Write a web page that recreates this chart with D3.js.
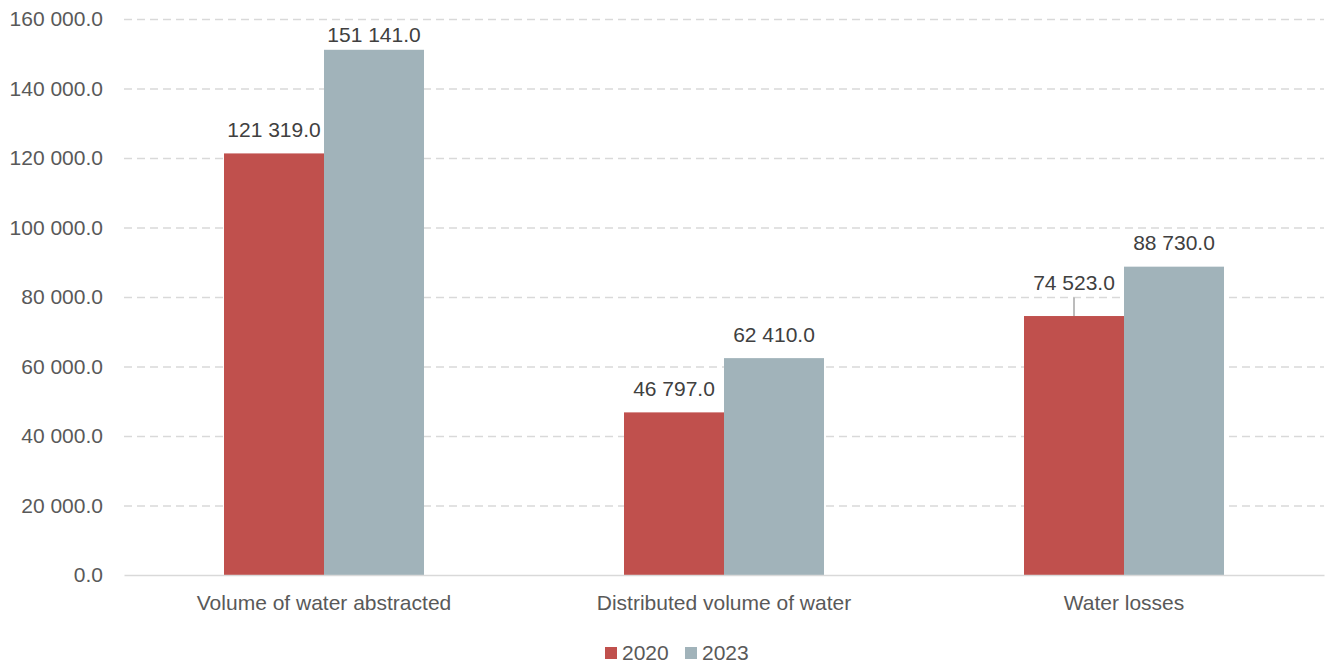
<!DOCTYPE html>
<html>
<head>
    <meta charset="utf-8">
    <style>
        body { margin: 0; background: #fff; }
        svg { font-family: 'Liberation Sans', Arial, sans-serif; }
        .y .tick line { stroke: #d9d9d9; stroke-dasharray: 8 5; stroke-width: 1.3px; }
        .y .domain { display: none; }
        .y .tick text { font-size: 21px; fill: #595959; }
        .x .domain { stroke: #d9d9d9; stroke-width: 1.5px; }
        .x .tick line { display: none; }
        .x .tick text { font-size: 21px; fill: #595959; }
    </style>
</head>
<body>
    <svg width="1325" height="666"></svg>

<script src="https://d3js.org/d3.v7.min.js"></script>
<script>
    let categories = ["Volume of water abstracted", "Distributed volume of water", "Water losses"]
    let years = ["2020", "2023"]
    let values2020 = [121319, 46797, 74523]
    let values2023 = [151141, 62410, 88730]
    let yTicks = [0, 20000, 40000, 60000, 80000, 100000, 120000, 140000, 160000]
    let colors = { "2020": "#c0504d", "2023": "#a1b3ba" }

    let width = 1325
    let margin = { top: 19, right: 1, bottom: 91, left: 124 }
    let height = 666

    let svg = d3.select("svg")

    let fmt = v => d3.format(",.1f")(v).replace(/,/g, " ")

    let x = d3.scaleBand()
        .domain(categories)
        .range([margin.left, width - margin.right])

    let xInner = d3.scaleBand()
        .domain(years)
        .range([0, x.bandwidth()])
        .paddingInner(0)
        .paddingOuter(1)

    let y = d3.scaleLinear()
        .domain([0, 160000])
        .range([height - margin.bottom, margin.top])

    // gridlines + y labels
    svg.append("g")
        .attr("class", "y axis")
        .attr("transform", `translate(${margin.left},0)`)
        .call(d3.axisLeft(y)
            .tickValues(yTicks)
            .tickSize(-(width - margin.left - margin.right))
            .tickPadding(21)
            .tickFormat(fmt))
        .call(g => g.selectAll(".tick").filter(d => d === 0).select("line").remove())

    let rows = categories.map((c, i) => ({ cat: c, vals: [
        { year: "2020", value: values2020[i] },
        { year: "2023", value: values2023[i] }
    ] }))

    let groups = svg.append("g")
        .selectAll("g")
        .data(rows)
        .join("g")
        .attr("transform", d => `translate(${x(d.cat)},0)`)

    groups.selectAll("rect")
        .data(d => d.vals)
        .join("rect")
        .attr("x", d => xInner(d.year))
        .attr("width", xInner.bandwidth())
        .attr("y", d => y(d.value))
        .attr("height", d => y(0) - y(d.value))
        .style("fill", d => colors[d.year])

    // data labels (kept inside plot top; water losses 2020 lifted with a leader line)
    groups.each(function (d) {
        let g = d3.select(this)
        d.vals.forEach(v => {
            let cx = xInner(v.year) + xInner.bandwidth() / 2
            let lift = (d.cat == "Water losses" && v.year == "2020") ? 10 : 0
            let ty = Math.max(y(v.value) - 16.5 - lift, 42)
            if (lift) {
                g.append("line")
                    .attr("x1", cx).attr("x2", cx)
                    .attr("y1", y(v.value))
                    .attr("y2", ty + 8)
                    .style("stroke", "#a6a6a6")
                    .style("stroke-width", "1.5px")
            }
            g.append("text")
                .attr("x", cx)
                .attr("y", ty)
                .attr("text-anchor", "middle")
                .style("font-size", "21px")
                .style("fill", "#404040")
                .text(fmt(v.value))
        })
    })

    // x axis
    svg.append("g")
        .attr("class", "x axis")
        .attr("transform", `translate(0,${y(0)})`)
        .call(d3.axisBottom(x).tickSize(0).tickPadding(20).tickSizeOuter(0))

    // legend
    let legend = svg.append("g")
        .attr("transform", "translate(605,660)")

    let lx = [0, 80]
    years.forEach((yr, i) => {
        legend.append("rect")
            .attr("x", lx[i])
            .attr("y", -13)
            .attr("width", 12)
            .attr("height", 12)
            .style("fill", colors[yr])
        legend.append("text")
            .attr("x", lx[i] + 17)
            .attr("y", 0)
            .style("font-size", "21px")
            .style("fill", "#595959")
            .text(yr)
    })
</script>
</body>
</html>
